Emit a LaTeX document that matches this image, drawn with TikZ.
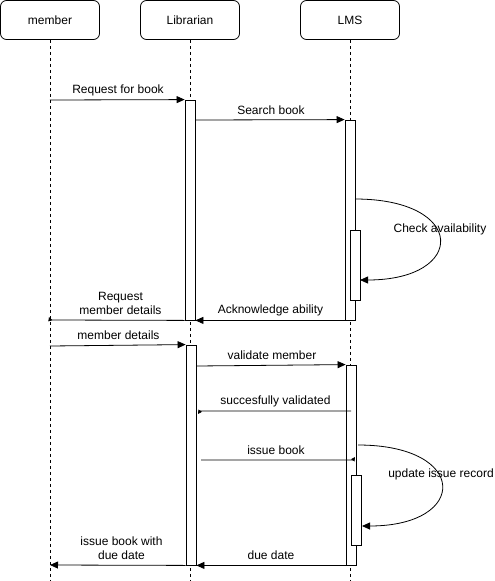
\documentclass[tikz,border=0pt]{standalone}
\usepackage{fontspec}
\setmainfont{Liberation Sans}
\usetikzlibrary{arrows.meta}
\begin{document}
\begin{tikzpicture}[x=1pt,y=-1pt,
  every node/.style={font=\fontsize{12}{14}\selectfont},
  actor/.style={draw,line width=0.8pt,rounded corners=6pt,minimum width=99pt,minimum height=39pt,inner sep=0pt,fill=white},
  lifeline/.style={line width=0.8pt,dash pattern=on 3pt off 3pt},
  activation/.style={draw,line width=0.8pt,fill=white,minimum width=10pt,inner sep=0pt},
  msg/.style={line width=0.8pt,-{Triangle[length=8pt,width=7pt]}},
  smallmsg/.style={line width=0.8pt,-{Triangle[length=4pt,width=4pt]}},
  lbl/.style={inner sep=0pt,align=center}]
\useasboundingbox (0,0) rectangle (495,581);

% participants
\node[actor] (member) at (50,20) {member};
\node[actor] (librarian) at (190,20) {Librarian};
\node[actor] (lms) at (350,20) {LMS};

% lifeline ends
\coordinate (memberEnd) at (50,581);
\coordinate (librarianEnd) at (190,581);
\coordinate (lmsEnd) at (350,581);
\draw[lifeline] (member.south) -- (memberEnd);
\draw[lifeline] (librarian.south) -- (librarianEnd);
\draw[lifeline] (lms.south) -- (lmsEnd);

% activation bars
\node[activation,minimum height=220pt] (lib1) at (190,210) {};
\node[activation,minimum height=200pt] (lms1) at (350,220) {};
\node[activation,minimum height=70pt] (lms1n) at (355,265) {};
\node[activation,minimum height=220pt] (lib2) at (191,455) {};
\node[activation,minimum height=200pt] (lms2) at (351,465) {};
\node[activation,minimum height=70pt] (lms2n) at (356,510.5) {};

% message end points on the lifelines
\coordinate (m1) at (50,100);
\coordinate (m2) at (50,320);
\coordinate (m2tip) at (49,317);
\coordinate (m3) at (50,346);
\coordinate (m4) at (50,565);

% first phase: book request
\draw[msg] (m1) -- (lib1.north west);
\node[lbl] (tReq) at (118,90) {Request for book};
\draw[msg] (lib1.north east |- 0,120) -- (lms1.north west);
\node[lbl] (tSearch) at (271,110) {Search book};
\coordinate (self1a) at (355,199);
\coordinate (self1b) at (360,280);
\draw[msg] (self1a) .. controls (467,199) and (467,280) .. (self1b);
\node[lbl] (tCheck) at (440,229) {Check availability};
\draw[msg] (lms1.south west) -- (lib1.south east);
\node[lbl] (tAck) at (270.5,310.5) {Acknowledge ability};
\draw[smallmsg] (lib1.south west) -- (54,320) .. controls (50,320) .. (m2tip);
\node[lbl] (tReqMem) at (120.5,303.5) {Request\\member details};

% second phase: member validation and issue
\draw[msg] (m3) -- (lib2.north west);
\node[lbl] (tMem) at (118.5,335.5) {member details};
\draw[msg] (lib2.north east |- 0,366) -- (lms2.north west);
\node[lbl] (tVal) at (272,355) {validate member};
\coordinate (v1) at (351,411);
\coordinate (v2) at (198,414);
\draw[smallmsg] (v1) -- (203,411) .. controls (200,411) .. (v2);
\node[lbl] (tSucc) at (275.5,401.5) {succesfully validated};
\coordinate (i1) at (201,460);
\coordinate (i2) at (355,457);
\draw[smallmsg] (i1) -- (350,460) .. controls (353,460) .. (i2);
\node[lbl] (tIssue) at (276,450.5) {issue book};
\coordinate (self2a) at (358,445);
\coordinate (self2b) at (362,526);
\draw[msg] (self2a) .. controls (469,445) and (469,526) .. (self2b);
\node[lbl] (tUpd) at (441,474) {update issue record};
\draw[msg] (lms2.south west) -- (lib2.south east);
\node[lbl] (tDue) at (271,555.5) {due date};
\draw[msg] (lib2.south west) -- (m4);
\node[lbl] (tIssueDue) at (121.5,548.5) {issue book with\\due date};
\end{tikzpicture}
\end{document}
